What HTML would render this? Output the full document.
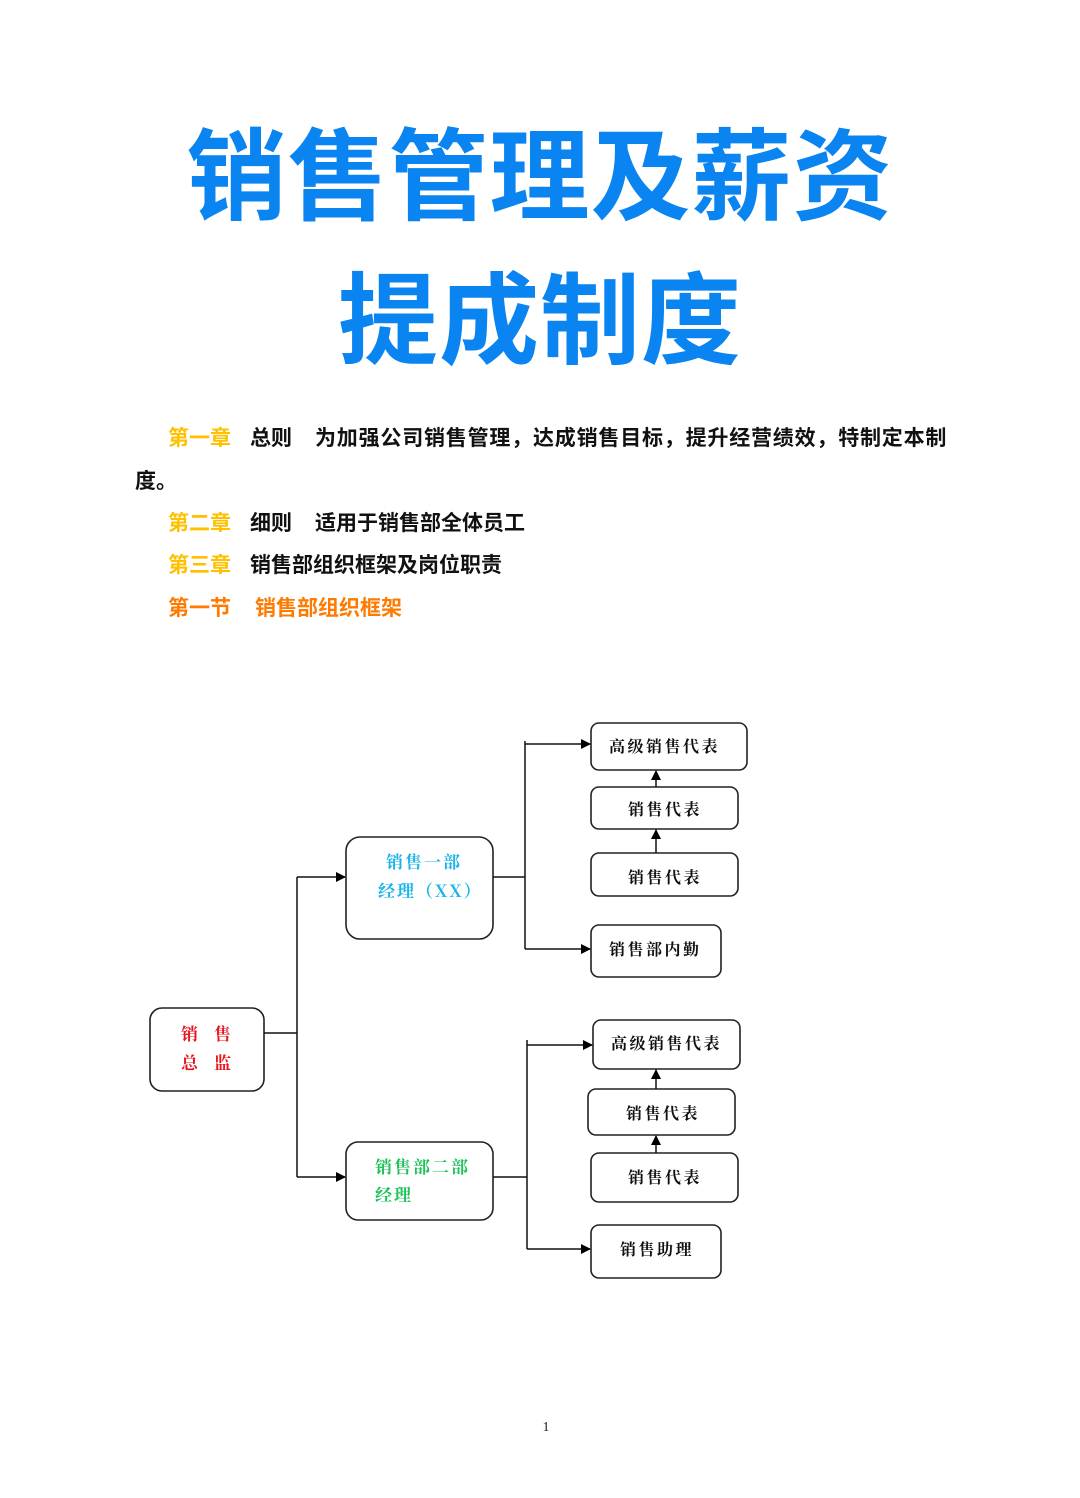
<!DOCTYPE html>
<html><head><meta charset="utf-8"><style>
body{margin:0;background:#fff;}
.pg{position:relative;width:1080px;height:1498px;overflow:hidden;background:#fff;font-family:"Liberation Sans","Noto Sans CJK SC",sans-serif;}
.t{position:absolute;left:0;width:1080px;text-align:center;font-size:100px;font-weight:bold;color:#0a84f0;line-height:1;letter-spacing:1px;}
.l{position:absolute;font-size:21px;font-weight:bold;color:#111;line-height:1;white-space:nowrap;}
.y{color:#ffc000}.o{color:#ff7a00}
</style></head><body><div class="pg">
<div class="t" style="top:128px;">销售管理及薪资</div>
<div class="t" style="top:272px;">提成制度</div>
<div class="l y" style="left:168px;top:428px;">第一章</div>
<div class="l" style="left:250px;top:428px;">总则</div>
<div class="l" style="left:315px;top:428px;letter-spacing:0.8px;">为加强公司销售管理，达成销售目标，提升经营绩效，特制定本制</div>
<div class="l" style="left:135px;top:471px;">度。</div>
<div class="l y" style="left:168px;top:513px;">第二章</div>
<div class="l" style="left:250px;top:513px;">细则</div>
<div class="l" style="left:315px;top:513px;">适用于销售部全体员工</div>
<div class="l y" style="left:168px;top:555px;">第三章</div>
<div class="l" style="left:250px;top:555px;">销售部组织框架及岗位职责</div>
<div class="l o" style="left:168px;top:598px;">第一节</div>
<div class="l o" style="left:255px;top:598px;">销售部组织框架</div>
<svg width="1080" height="1498" style="position:absolute;left:0;top:0" font-family="'Noto Serif CJK SC',serif" font-weight="bold">
<defs><marker id="a" markerWidth="10" markerHeight="10" refX="9" refY="5" orient="auto" markerUnits="userSpaceOnUse"><path d="M0,0 L10,5 L0,10 z" fill="#000"/></marker></defs>
<g fill="#fff" stroke="#222" stroke-width="1.6">
<rect x="150" y="1008" width="114" height="83" rx="12"/>
<rect x="346" y="837" width="147" height="102" rx="14"/>
<rect x="346" y="1142" width="147" height="78" rx="12"/>
<rect x="591" y="723" width="156" height="47" rx="8"/>
<rect x="591" y="787" width="147" height="42" rx="8"/>
<rect x="591" y="853" width="147" height="43" rx="8"/>
<rect x="591" y="925" width="130" height="52" rx="8"/>
<rect x="593" y="1020" width="147" height="49" rx="8"/>
<rect x="588" y="1089" width="147" height="46" rx="8"/>
<rect x="591" y="1153" width="147" height="49" rx="8"/>
<rect x="591" y="1225" width="130" height="53" rx="8"/>
</g>
<g stroke="#111" stroke-width="1.5" fill="none">
<path d="M264 1033H297M297 877V1177"/>
<path d="M297 877H345" marker-end="url(#a)"/><path d="M297 1177H345" marker-end="url(#a)"/>
<path d="M493 877H525M525 741V949"/>
<path d="M525 744H590" marker-end="url(#a)"/><path d="M525 949H590" marker-end="url(#a)"/>
<path d="M493 1177H527M527 1040V1249"/>
<path d="M527 1045H592" marker-end="url(#a)"/><path d="M527 1249H590" marker-end="url(#a)"/>
<path d="M656 787V771" marker-end="url(#a)"/><path d="M656 853V830" marker-end="url(#a)"/>
<path d="M656 1089V1070" marker-end="url(#a)"/><path d="M656 1153V1136" marker-end="url(#a)"/>
</g>
<g font-size="17" letter-spacing="2">
<text x="181" y="1040" fill="#e8141e">销</text><text x="214" y="1040" fill="#e8141e">售</text>
<text x="181" y="1069" fill="#e8141e">总</text><text x="214" y="1069" fill="#e8141e">监</text>
<text x="386" y="868" fill="#1ab4ea">销售一部</text>
<text x="378" y="897" fill="#1ab4ea">经理（XX）</text>
<text x="375" y="1173" fill="#1ec25a">销售部二部</text>
<text x="375" y="1201" fill="#1ec25a">经理</text>
</g>
<g font-size="16" fill="#111" letter-spacing="2.5">
<text x="609" y="752">高级销售代表</text>
<text x="628" y="815">销售代表</text>
<text x="628" y="883">销售代表</text>
<text x="609" y="955">销售部内勤</text>
<text x="611" y="1049">高级销售代表</text>
<text x="626" y="1119">销售代表</text>
<text x="628" y="1183">销售代表</text>
<text x="620" y="1255">销售助理</text>
</g>
<text x="546" y="1431" font-family="'Liberation Serif',serif" font-weight="normal" font-size="14" text-anchor="middle" fill="#222">1</text>
</svg>
</div></body></html>
